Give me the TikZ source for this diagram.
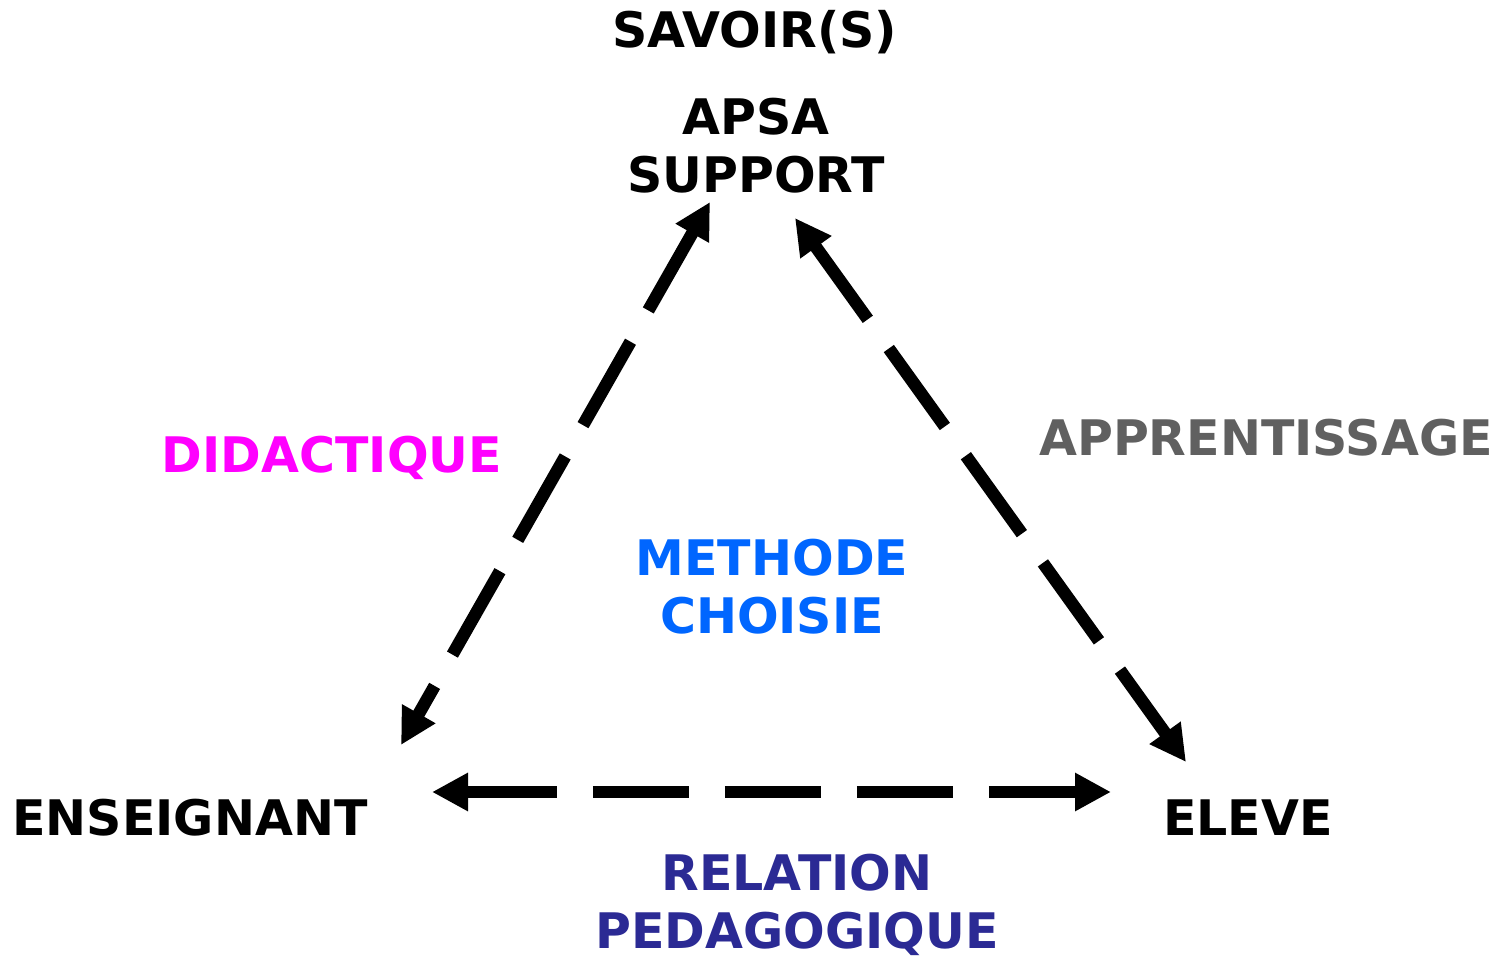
\documentclass[tikz,border=0pt]{standalone}
\usepackage{fontspec}
\setmainfont{DejaVu Sans}
\usepackage{xcolor}
\usetikzlibrary{arrows.meta}

\definecolor{didacpink}{HTML}{FF00FF}
\definecolor{apprgray}{HTML}{606060}
\definecolor{methblue}{HTML}{0066FF}
\definecolor{relnavy}{HTML}{2B2A94}

\begin{document}
\begin{tikzpicture}[x=1pt,y=-1pt,
		word/.style={font=\bfseries\fontsize{49}{58}\selectfont, anchor=base, align=center, inner sep=0pt},
		link/.style={line width=12.5pt, dash pattern=on 96pt off 36pt, dash phase=5pt,
			{Triangle[length=36pt,width=36pt]}-{Triangle[length=36pt,width=36pt]}}]
			\useasboundingbox (0,0) rectangle (1500,960);

			% the three poles
			\node[word] (savoir) at (755,48) {SAVOIR(S)};
			\node[word] (apsa) at (756,193) {APSA\\SUPPORT};
			\node[word] (ens) at (190,835) {ENSEIGNANT};
			\node[word] (eleve) at (1248,835) {ELEVE};

			% the relations
			\node[word, text=didacpink] (didac) at (332,472) {DIDACTIQUE};
			\node[word, text=apprgray] (appr) at (1266,455) {APPRENTISSAGE};
			\node[word, text=methblue] (meth) at (772,633) {METHODE\\CHOISIE};
			\node[word, text=relnavy] (rel) at (797,948) {RELATION\\PEDAGOGIQUE};

			\coordinate (apsa-l) at (710,202);
			\coordinate (apsa-r) at (795,218);
			\coordinate (ens-t) at (401,745);
			\coordinate (ens-r) at (432,792);
			\coordinate (eleve-t) at (1186,762);
			\coordinate (eleve-l) at (1111,792);

			\begin{scope}[link]
				\draw (apsa-l) -- (ens-t);
				\draw (apsa-r) -- (eleve-t);
				\draw (ens-r) -- (eleve-l);
			\end{scope}
		\end{tikzpicture}
\end{document}
